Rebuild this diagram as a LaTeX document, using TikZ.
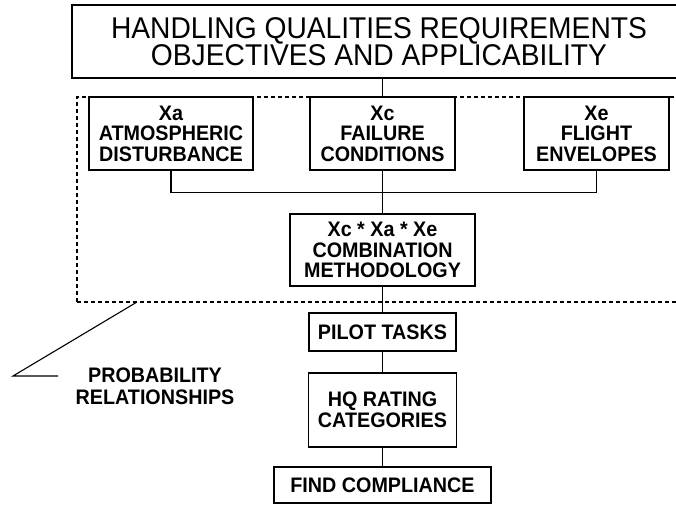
\documentclass[tikz,border=0pt]{standalone}
\usepackage{fontspec}
\setmainfont{Liberation Sans}
\newfontfamily\hqfont{Liberation Sans}[FakeStretch=0.94]
\tikzset{hqTitle/.style={draw,rectangle,line width=1.1pt,inner sep=0pt,align=center,font=\hqfont\fontsize{30}{26}\selectfont},
 hqBox/.style={draw,rectangle,line width=1.1pt,inner sep=0pt,align=center,font=\hqfont\bfseries\fontsize{21}{20.5}\selectfont},
 hqGroup/.style={draw,rectangle,line width=1.6pt,dash pattern=on 4pt off 3pt,inner sep=0pt},
 hqNote/.style={align=center,inner sep=0pt,font=\hqfont\bfseries\fontsize{21}{22}\selectfont},
 hqLink/.style={line width=1.1pt}}

\begin{document}
\begin{tikzpicture}[x=1pt,y=-1pt]
\useasboundingbox (0,0) rectangle (676,504);
\clip (0,0) rectangle (676,504);
\node[hqGroup,minimum width=623pt,minimum height=205pt] (grp) at (388.5,199.5) {};
\node[hqTitle,minimum width=614pt,minimum height=73pt] (title) at (379,41.5) {HANDLING QUALITIES REQUIREMENTS\\OBJECTIVES AND APPLICABILITY};
\foreach \n/\xx/\ww/\txt in {xa/171/164/{Xa\\ATMOSPHERIC\\DISTURBANCE},xc/382.5/145/{Xc\\FAILURE\\CONDITIONS},xe/596.5/145/{Xe\\FLIGHT\\ENVELOPES}}{
\node[hqBox,minimum width=\ww pt,minimum height=73pt] (\n) at (\xx,133.5) {\txt};}
\node[hqBox,minimum width=185pt,minimum height=72pt] (comb) at (382.5,250) {Xc * Xa * Xe\\COMBINATION\\METHODOLOGY};
\node[hqBox,minimum width=147pt,minimum height=38pt] (pilot) at (382.5,332) {PILOT TASKS};
\node[hqBox,minimum width=148pt,minimum height=74pt] (hq) at (382.5,410) {HQ RATING\\CATEGORIES};
\node[hqBox,minimum width=217pt,minimum height=36pt] (find) at (382.5,485) {FIND COMPLIANCE};
\node[hqNote] (prob) at (155,386) {PROBABILITY\\RELATIONSHIPS};
% connectors
\coordinate (bus) at (382.5,192.5);
\draw[hqLink] (title.south -| xc) -- (grp.north -| xc);
\draw[hqLink] (xa.south) |- (bus) -| (xe.south);
\draw[hqLink] (xc.south) -- (comb.north);
\draw[hqLink] (comb.south) -- (pilot.north);
\draw[hqLink] (pilot.south) -- (hq.north);
\draw[hqLink] (hq.south) -- (find.north);
% leader to the note
\coordinate (tip) at (137,302);
\coordinate (elbow) at (13,376);
\coordinate (tail) at (58,376);
\draw[hqLink] (tip) -- (elbow) -- (tail);
\end{tikzpicture}
\end{document}
